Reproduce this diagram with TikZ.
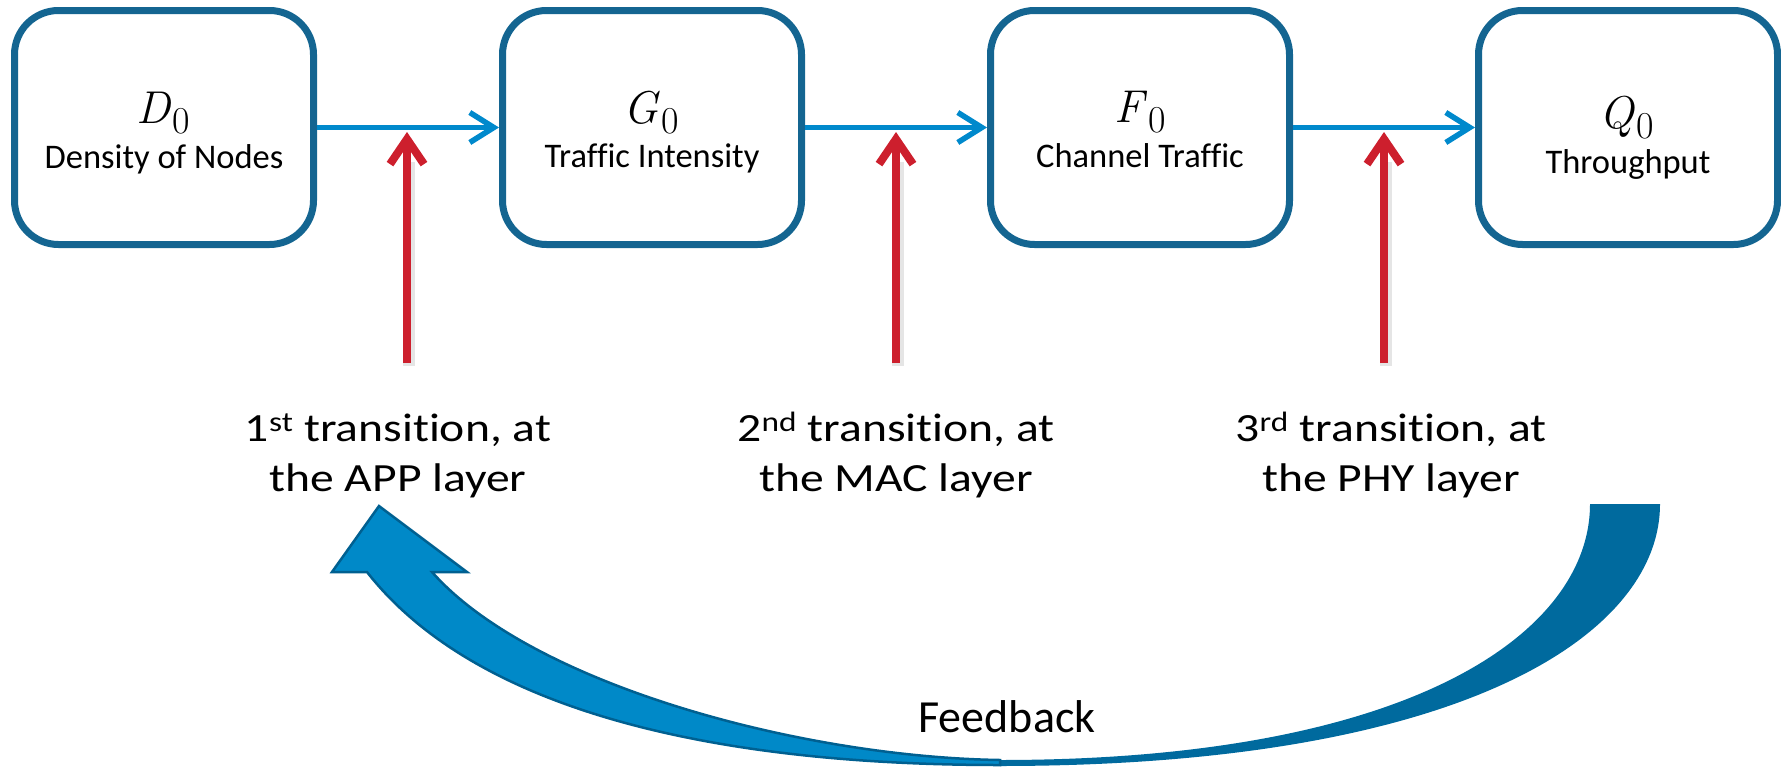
\documentclass[tikz,border=0pt]{standalone}
\usepackage{fontspec}
\newfontfamily\bodyfont[Ligatures=NoCommon]{Carlito}
\newfontfamily\layerfont[FakeStretch=1.19,Ligatures=NoCommon]{Carlito}
\usetikzlibrary{arrows.meta}

\definecolor{boxblue}{RGB}{20,101,145}
\definecolor{linkblue}{RGB}{0,137,204}
\definecolor{inred}{RGB}{205,31,45}
\definecolor{ribbonlight}{RGB}{0,137,200}
\definecolor{ribbondark}{RGB}{0,106,158}
\definecolor{ribbonedge}{RGB}{0,96,145}

% quantity symbol (serif italic letter) with a large, lowered index
\newcommand\stagesym[2]{\fontsize{46}{50}\selectfont\textit{#1}\kern1.5pt\raisebox{-10pt}{\fontsize{38}{40}\selectfont #2}}

\begin{document}
\begin{tikzpicture}[x=1pt,y=-1pt,
  stage/.style={draw=boxblue, line width=7pt, rounded corners=44pt,
    minimum width=299pt, minimum height=234pt, fill=white, inner sep=0pt},
  sym/.style={anchor=base, inner sep=0pt},
  caption/.style={anchor=base, inner sep=0pt, font=\bodyfont\fontsize{34.5}{40}\selectfont},
  link/.style={draw=linkblue, line width=5.5pt,
    -{Straight Barb[length=24pt,width=30pt]}},
  layer/.style={draw=inred, line width=8pt,
    -{Straight Barb[length=25pt,width=34pt]}},
  layershadow/.style={draw=black, opacity=0.10, line width=12pt},
  layernote/.style={anchor=base, inner sep=0pt, align=center,
    font=\layerfont\fontsize{40}{50}\selectfont},
]
\useasboundingbox (0,0) rectangle (1781,766);

% the four stages
\node[stage] (b1) at (164,127.5) {};
\node[stage] (b2) at (652,127.5) {};
\node[stage] (b3) at (1140,127.5) {};
\node[stage] (b4) at (1628,127.5) {};

\node[sym] (s1) at (163,123) {\stagesym{D}{0}};
\node[caption] (c1) at (164,168) {Density of Nodes};
\node[sym] (s2) at (651,123) {\stagesym{G}{0}};
\node[caption] (c2) at (652,167) {Traffic Intensity};
\node[sym] (s3) at (1140,122) {\stagesym{F}{0}};
\node[caption] (c3) at (1140,167) {Channel Traffic};
\node[sym] (s4) at (1627,128) {\stagesym{Q}{0}};
\node[caption] (c4) at (1628,173) {Throughput};

% flow between the stages
\draw[link] (b1.east) -- (b2.west);
\draw[link] (b2.east) -- (b3.west);
\draw[link] (b3.east) -- (b4.west);

% layer transitions acting on each link
\coordinate (r1a) at (407,363);  \coordinate (r1b) at (407,132);
\coordinate (r2a) at (896,363);  \coordinate (r2b) at (896,132);
\coordinate (r3a) at (1384,363); \coordinate (r3b) at (1384,132);
\foreach \k in {1,2,3}{
  \draw[layershadow] ([shift={(2,3)}]r\k a) -- ([shift={(2,30)}]r\k b);
  \draw[layer] (r\k a) -- (r\k b);
}

\node[layernote] (n1) at (398,491) {1\textsuperscript{st} transition, at\\the APP layer};
\node[layernote] (n2) at (896,491) {2\textsuperscript{nd} transition, at\\the MAC layer};
\node[layernote] (n3) at (1391,491) {3\textsuperscript{rd} transition, at\\the PHY layer};

% feedback ribbon: back face first, then the front face with its head
\fill[ribbondark] (1660,504) .. controls (1660,635) and (1462,766) .. (1000,766)
  -- (1000,760) .. controls (1413,760) and (1590,632) .. (1590,504) -- cycle;
\filldraw[fill=ribbonlight, draw=ribbonedge, line width=2.5pt, line join=miter]
  (1000,765) .. controls (700,765) and (472,706) .. (367,572)
  -- (332,572) -- (379,506) -- (467,572) -- (432,572)
  .. controls (531,684) and (800,757) .. (1000,760) -- cycle;

\node[anchor=base, inner sep=0pt, font=\bodyfont\fontsize{46}{50}\selectfont] (fb) at (1007,732) {Feedback};
\end{tikzpicture}
\end{document}
